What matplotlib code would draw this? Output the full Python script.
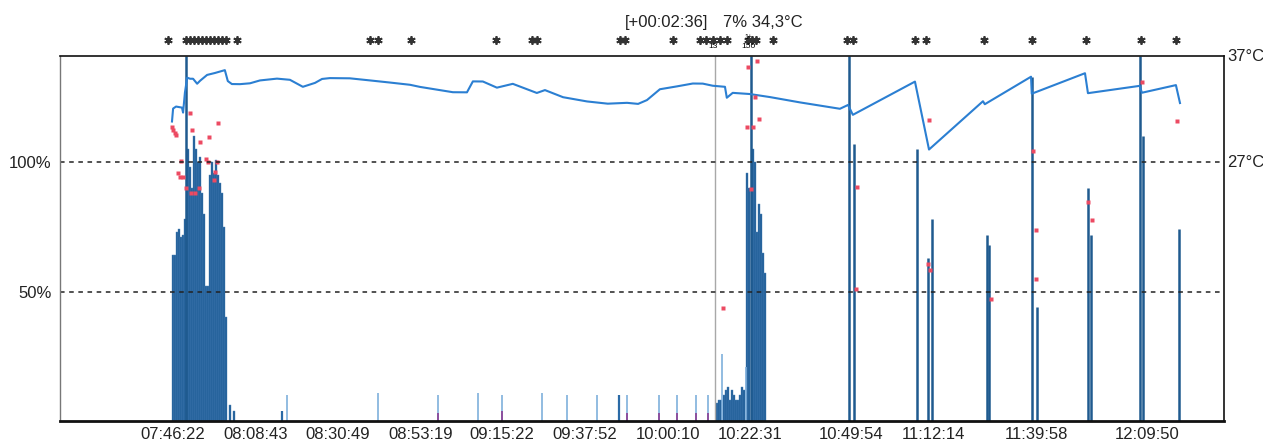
import matplotlib
matplotlib.use("Agg")
import matplotlib.pyplot as plt
import matplotlib.transforms as mtransforms

plt.rcParams["font.family"] = ["Liberation Sans", "DejaVu Sans"]

# ---- data (time = minutes after 07:00, values in %) ----
tick_labels = ["07:46:22", "08:08:43", "08:30:49", "08:53:19", "09:15:22", "09:37:52",
               "10:00:10", "10:22:31", "10:49:54", "11:12:14", "11:39:58", "12:09:50"]

# dense bars, first session
bar1_t = [46.4, 46.9, 47.5, 48.0, 48.5, 49.1, 49.6, 50.4, 51.0, 51.5, 52.0, 52.6, 53.1, 53.7,
          54.2, 54.7, 55.3, 55.8, 56.4, 56.9, 57.5, 58.0, 58.5, 59.1, 59.6, 60.2, 60.7, 61.8, 62.9]
bar1_pct = [64, 64, 73, 74, 71, 72, 78, 105, 98, 90, 110, 105, 100, 102,
            88, 80, 52, 52, 95, 100, 96, 101, 95, 92, 88, 75, 40, 6, 4]

# dense bars, second session
bar2_t = [193.5, 194.0, 194.6, 195.4, 196.0, 196.5, 197.0, 197.6, 198.1, 198.7, 199.2, 199.7,
          200.3, 200.8, 201.6, 202.2, 203.2, 203.8, 204.3, 204.8, 205.4, 205.9, 206.5]
bar2_pct = [7, 8, 8, 10, 12, 13, 8, 12, 10, 8, 8, 10,
            13, 12, 96, 90, 105, 100, 73, 84, 80, 65, 57]

# light bars (thin)
light_t = [77.2, 101.8, 118.0, 128.9, 135.4, 146.2, 152.9, 161.1, 169.2, 177.8, 182.7,
           187.8, 191.1, 194.9, 201.4]
light_pct = [10, 11, 10, 11, 10, 11, 10, 10, 10, 10, 10, 10, 10, 26, 21]
purple_t = [118.0, 135.4, 169.2, 177.8, 182.7, 187.8, 191.1]
purple_pct = [3, 4, 3, 3, 3, 3, 3]
small_dark_t = [75.8, 167.0]
small_dark_pct = [4, 10]

# single spikes
spike_t = [49.9, 202.7, 229.2, 230.6, 247.6, 250.6, 251.7, 266.6, 267.2, 278.7, 280.1,
           293.9, 294.7, 307.9, 308.8, 318.5]
spike_pct = [141, 141, 141, 107, 105, 63, 78, 72, 68, 133, 44, 90, 72, 141, 110, 74]

# temperature (degC)
temp_t = [46.1, 46.4, 47.2, 48.8, 49.1, 49.6, 50.2, 51.0, 51.8, 52.9, 53.7, 55.6, 57.7, 59.6,
          60.4, 61.2, 62.3, 64.5, 67.2, 69.9, 74.5, 78.0, 81.5, 84.8, 86.7, 88.8, 94.2, 99.7,
          105.1, 110.5, 113.2, 122.1, 125.9, 127.5, 130.2, 134.0, 138.3, 144.8, 147.0, 151.9,
          158.4, 164.0, 169.2, 172.2, 174.6, 178.1, 182.7, 187.0, 189.7, 192.4, 195.7, 196.2,
          197.8, 202.4, 207.9, 216.0, 226.8, 229.0, 230.3, 247.1, 250.9, 265.5, 266.0, 278.5,
          278.7, 293.1, 293.9, 307.9, 308.5, 317.7, 318.8]
temp_c = [30.83, 32.05, 32.24, 32.14, 31.67, 33.55, 34.96, 34.86, 34.86, 34.39, 34.67, 35.22,
          35.40, 35.59, 35.67, 34.64, 34.36, 34.35, 34.43, 34.70, 34.87, 34.76, 34.10, 34.47,
          34.84, 34.92, 34.90, 34.70, 34.50, 34.29, 34.09, 33.59, 33.58, 34.61, 34.60, 34.02,
          34.38, 33.52, 33.79, 33.12, 32.72, 32.51, 32.59, 32.49, 32.85, 33.87, 34.14, 34.41,
          34.40, 34.20, 34.10, 33.07, 33.53, 33.42, 33.13, 32.63, 32.03, 32.39, 31.46, 34.59,
          28.19, 32.74, 32.46, 35.05, 33.45, 35.38, 33.50, 34.19, 33.54, 34.26, 32.57]

# red dots
dot_t = [46.1, 46.4, 46.9, 47.2, 51.0, 51.5, 53.7, 56.1, 58.5, 48.5, 47.7, 49.1, 55.3, 55.8,
         58.3, 48.3, 49.9, 51.2, 52.3, 53.4, 57.5, 57.7,
         204.3, 201.9, 203.8, 204.9, 201.6, 203.3, 202.7, 195.1,
         250.9, 231.4, 231.1, 250.6, 251.1, 279.0, 279.8, 279.8, 267.7, 293.9, 295.0,
         308.5, 317.9]
dot_pct = [113.4, 112.3, 111.1, 110.3, 118.8, 112.6, 107.6, 109.6, 115.0, 100.3, 95.7, 94.2,
           101.4, 99.9, 100.2, 94.2, 89.9, 88.0, 88.0, 89.9, 93.0, 96.1,
           139.0, 136.7, 125.1, 116.7, 113.6, 113.6, 89.8, 43.7,
           116.4, 90.5, 50.9, 60.6, 58.3, 104.2, 73.8, 55.0, 47.1, 84.7, 77.8,
           131.0, 115.8]

# event stars above the chart
star_t = [45.0, 49.9, 51.0, 52.0, 53.1, 54.2, 55.3, 56.4, 57.5, 58.5, 59.6, 60.7, 63.7,
          99.7, 101.8, 110.7, 133.7, 143.5, 144.8, 167.3, 168.6, 181.6, 188.9, 190.5, 192.4,
          194.3, 196.2, 201.9, 203.0, 204.1, 208.7, 228.7, 230.3, 247.1, 250.1, 265.7, 278.7,
          293.3, 308.2, 317.7]

cursor_t = 193.0


def to_min(s):
    h, m, sec = (int(v) for v in s.split(":"))
    return (h - 7) * 60 + m + sec / 60


def temp_to_pct(c):
    # 27 degC sits on the 100 % line, 37 degC at the top (141 %)
    return 100 + (c - 27) * 4.1


fig = plt.figure(figsize=(12.63, 4.45), dpi=100)
ax = fig.add_axes([0.0475, 0.0539, 0.9216, 0.8202])

bar_kw = dict(color="#1d5c96", edgecolor="#4f84bb", linewidth=0.3)
ax.bar(bar1_t, bar1_pct, width=0.54, **bar_kw)
ax.bar(bar2_t, bar2_pct, width=0.54, **bar_kw)
ax.vlines(light_t, 0, light_pct, color="#7fb0dc", lw=1.2)
ax.vlines(purple_t, 0, purple_pct, color="#8c4f9e", lw=1.4)
ax.vlines(small_dark_t, 0, small_dark_pct, color="#2a6aa6", lw=1.6)
ax.vlines(spike_t, 0, spike_pct, color="#1f5a8f", lw=1.8)

ax.axvline(cursor_t, color="#a8a8a8", lw=1.0)

ax.plot(temp_t, [temp_to_pct(c) for c in temp_c], color="#2b7fd2", lw=1.5)
ax.plot(dot_t, dot_pct, ls="none", marker="s", ms=2.6, color="#ec4a62", mec="none")

ax.axhline(100, color="#222222", lw=1.1, ls=(0, (3, 3)))
ax.axhline(50, color="#222222", lw=1.1, ls=(0, (3, 3)))

ax.plot(star_t, [147] * len(star_t), ls="none", marker=(6, 2, 0), ms=6,
        color="#333333", mew=1.3, clip_on=False)

ax.set_xlim(15.8, 330.7)
ax.set_ylim(0, 141)

ax.set_xticks([to_min(s) for s in tick_labels])
ax.set_xticklabels(tick_labels)
ax.set_yticks([50, 100])
ax.set_yticklabels(["50%", "100%"])
ax.tick_params(axis="both", length=0, labelsize=12, colors="#222222")
ax.tick_params(axis="x", pad=4)
ax.tick_params(axis="y", pad=6)

for side in ["top", "right"]:
    ax.spines[side].set_color("#111111")
    ax.spines[side].set_linewidth(1.2)
ax.spines["left"].set_color("#777777")
ax.spines["left"].set_linewidth(1.0)
ax.spines["bottom"].set_color("#111111")
ax.spines["bottom"].set_linewidth(2.0)

trans = mtransforms.blended_transform_factory(ax.transAxes, ax.transData)
ax.text(1.003, 141, "37°C", transform=trans, fontsize=12, va="center", ha="left", color="#222222")
ax.text(1.003, 100, "27°C", transform=trans, fontsize=12, va="center", ha="left", color="#222222")

trans2 = mtransforms.blended_transform_factory(ax.transData, ax.transAxes)
ax.text(168.6, 1.093, "[+00:02:36]", transform=trans2, fontsize=12, va="center", ha="left",
        color="#222222")
ax.text(195.1, 1.093, "7% 34,3°C", transform=trans2, fontsize=12, va="center", ha="left",
        color="#222222")
ax.text(192.4, 1.025, "13", transform=trans2, fontsize=6, va="center", ha="center")
ax.text(202.1, 1.025, "150", transform=trans2, fontsize=6, va="center", ha="center")
ax.text(202.1, 1.05, "1+", transform=trans2, fontsize=5, va="center", ha="center")

fig.savefig("out.png", dpi=100, facecolor="white")
